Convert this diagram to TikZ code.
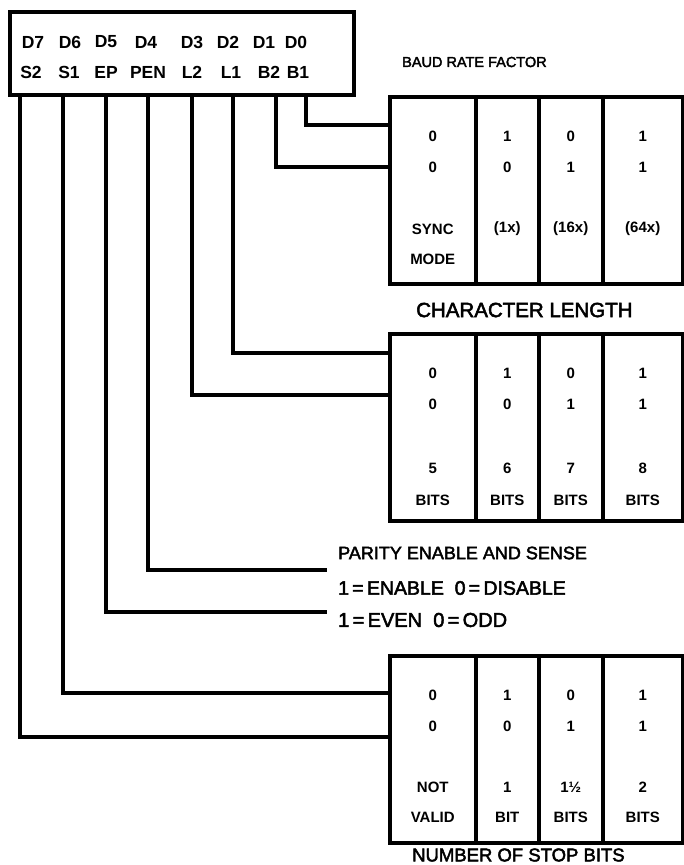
\documentclass[tikz,border=0pt]{standalone}
\usepackage{fontspec}
\setmainfont{Liberation Sans}
\newfontfamily\titlefont{Liberation Sans}[FakeBold=2.5]
\usetikzlibrary{positioning}
\tikzset{
  regbox/.style={draw, line width=3.5pt, minimum width=344pt, minimum height=83pt,
                 anchor=north west, inner sep=0pt},
  bitlbl/.style={font=\fontsize{17.5}{18}\selectfont\bfseries, inner sep=0pt},
  cellbox/.style={draw, line width=3.5pt, minimum height=187pt, anchor=north west,
                  inner sep=0pt},
  celltxt/.style={font=\fontsize{15}{16}\selectfont\bfseries, inner sep=0pt},
  title/.style={font=\fontsize{#1}{22}\selectfont\titlefont, inner sep=0pt, anchor=west},
  title/.default=19.5,
  wire/.style={line width=3.5pt},
}

\begin{document}
\begin{tikzpicture}[x=1pt, y=-1pt]
  \useasboundingbox (0,0) rectangle (684,865);

  \node[regbox] (reg) at (8,10) {};
  \foreach \n/\x in {D7/33,D6/70,D5/106,D4/146,D3/192,D2/228,D1/264,D0/296}
    \node[bitlbl] (\n) at (\x,42) {\n};
  \foreach \n/\x in {S2/31,S1/69,EP/106,PEN/148,L2/192,L1/231,B2/269,B1/298}
    \node[bitlbl] (\n) at (\x,72) {\n};
  \foreach \n/\x in {S2/20,S1/63,EP/106,PEN/148,L2/192,L1/233,B2/276,B1/306}
    \coordinate (t\n) at (\x,93);

  \foreach \b/\y in {baud/95,len/332,stop/654}
    \foreach \c/\x/\w/\p/\q in {1/388/86/0/0,2/474/63/1/0,3/537/64/0/1,4/601/80/1/1}{
      \node[cellbox, minimum width=\w pt] (\b\c) at (\x,\y) {};
      \node[celltxt] (\b\c p) at ([yshift=-41pt]\b\c.north) {\p};
      \node[celltxt] (\b\c q) at ([yshift=-72pt]\b\c.north) {\q};
    }
  \foreach \c/\s/\t in {1/SYNC/MODE,2/(1x)/,3/(16x)/,4/(64x)/}{
    \node[celltxt] (baud\c s) at ([yshift=-134pt]baud\c.north) {\s};
    \node[celltxt] (baud\c t) at ([yshift=-164pt]baud\c.north) {\t};
  }
  \foreach \c/\s/\t in {1/5/BITS,2/6/BITS,3/7/BITS,4/8/BITS}{
    \node[celltxt] (len\c s) at ([yshift=-136pt]len\c.north) {\s};
    \node[celltxt] (len\c t) at ([yshift=-168pt]len\c.north) {\t};
  }
  \foreach \c/\s/\t in {1/NOT/VALID,2/1/BIT,3/1½/BITS,4/2/BITS}{
    \node[celltxt] (stop\c s) at ([yshift=-133pt]stop\c.north) {\s};
    \node[celltxt] (stop\c t) at ([yshift=-163pt]stop\c.north) {\t};
  }

  \node[title=14.5] (baudt) at (402,62) {BAUD RATE FACTOR};
  \node[title=20.5] (lent) at (416,310) {CHARACTER LENGTH};
  \node[title=18] (part) at (338,553) {PARITY ENABLE AND SENSE};
  \node[title] (ena) at (338,588) {1\,=\,ENABLE\ \ 0\,=\,DISABLE};
  \node[title=20] (eve) at (338,620) {1\,=\,EVEN\ \ 0\,=\,ODD};
  \node[title=18.5] (stopt) at (412,855) {NUMBER OF STOP BITS};

  \coordinate (penend) at (327,570);
  \coordinate (epend) at (327,612);
  \draw[wire] (tB1) |- ([yshift=-30pt]baud1.north west);
  \draw[wire] (tB2) |- ([yshift=-72pt]baud1.north west);
  \draw[wire] (tL1) |- ([yshift=-21pt]len1.north west);
  \draw[wire] (tL2) |- ([yshift=-63pt]len1.north west);
  \draw[wire] (tPEN) |- (penend);
  \draw[wire] (tEP) |- (epend);
  \draw[wire] (tS1) |- ([yshift=-39pt]stop1.north west);
  \draw[wire] (tS2) |- ([yshift=-83pt]stop1.north west);
\end{tikzpicture}
\end{document}
